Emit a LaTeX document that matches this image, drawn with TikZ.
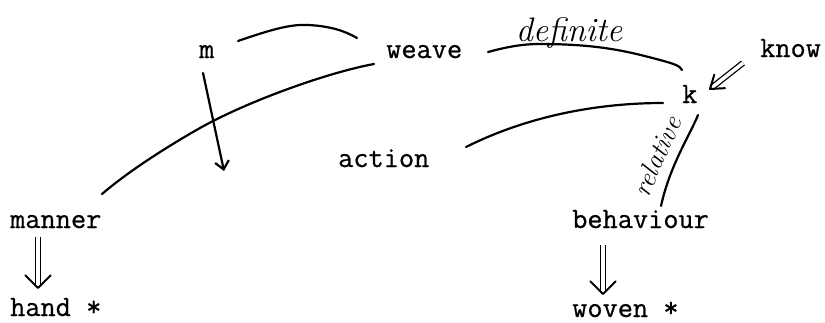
\documentclass[tikz,border=0pt]{standalone}
\usepackage{fontspec}
\newfontfamily\tw{Latin Modern Mono}[FakeBold=0.7]
\usetikzlibrary{arrows.meta,calc}
\begin{document}
\begin{tikzpicture}[x=1pt,y=-1pt,
  word/.style={anchor=base west,inner sep=0pt,font=\tw\fontsize{29.5}{34}\selectfont},
  hand/.style={inner sep=0pt,font=\itshape\fontsize{34}{38}\selectfont},
  stroke/.style={line width=2.2pt,line cap=round},
  dshaft/.style={line width=1.3pt,double,double distance=3.5pt},
  vhead/.style={line width=2pt,line cap=round,line join=round}]
\useasboundingbox (0,0) rectangle (825,322);
% words
\node[word] (m) at (199,58) {m};
\node[word] (weave) at (386,58) {weave};
\node[word] (know) at (760,57) {know};
\node[word] (k) at (682,103) {k};
\node[word] (action) at (338,167) {action};
\node[word] (manner) at (10,228) {manner};
\node[word] (behaviour) at (572,228) {behaviour};
\node[word] (hand) at (10,316) {hand *};
\node[word] (woven) at (572,317) {woven *};
% connector ends
\coordinate (mwA) at (238,41);
\coordinate (mwB) at (357,38);
\coordinate (wmA) at (374,64);
\coordinate (wmB) at (102,194);
\coordinate (mdA) at (203,73);
\coordinate (mdB) at (224,171);
\coordinate (wkA) at (488,52);
\coordinate (wkB) at (682,70);
\coordinate (akA) at (466,147);
\coordinate (akB) at (663,103);
\coordinate (kbA) at (698,115);
\coordinate (kbB) at (661,206);
\coordinate (knA) at (743,63);
\coordinate (knB) at (710,89);
\coordinate (mhA) at (38,237);
\coordinate (mhB) at (38,288);
\coordinate (bwA) at (603,245);
\coordinate (bwB) at (603,294);
% connectors
\draw[stroke] (mwA) .. controls (270,30) and (290,24) .. (308,25) .. controls (330,26) and (345,31) .. (mwB);
\draw[stroke] (wmA) .. controls (330,72) and (250,100) .. (200,128) .. controls (170,145) and (130,170) .. (wmB);
\draw[stroke,-{Straight Barb[length=8pt,width=14pt]}] (mdA) -- (mdB);
\draw[stroke] (wkA) .. controls (510,46) and (525,44) .. (540,44) .. controls (600,44) and (630,52) .. (660,60) .. controls (675,64) and (680,66) .. (wkB);
\draw[stroke] (akA) .. controls (530,115) and (600,103) .. (akB);
\draw[stroke] (kbA) .. controls (690,135) and (670,165) .. (kbB);
% double arrows
\draw[dshaft] (knA) -- ($(knB)!2pt!(knA)$);
\draw[vhead] ($(knB)!15pt!-35:(knA)$) -- (knB) -- ($(knB)!15pt!35:(knA)$);
\draw[dshaft] (mhA) -- ($(mhB)!2pt!(mhA)$);
\draw[vhead] ($(mhB)!18pt!-45:(mhA)$) -- (mhB) -- ($(mhB)!18pt!45:(mhA)$);
\draw[dshaft] (bwA) -- ($(bwB)!2pt!(bwA)$);
\draw[vhead] ($(bwB)!18pt!-45:(bwA)$) -- (bwB) -- ($(bwB)!18pt!45:(bwA)$);
% labels
\node[hand,anchor=base] (def) at (569,41) {definite};
\node[hand,anchor=base,rotate=66,font=\itshape\fontsize{27}{30}\selectfont] (rel) at (665,160) {relative};
\end{tikzpicture}
\end{document}
